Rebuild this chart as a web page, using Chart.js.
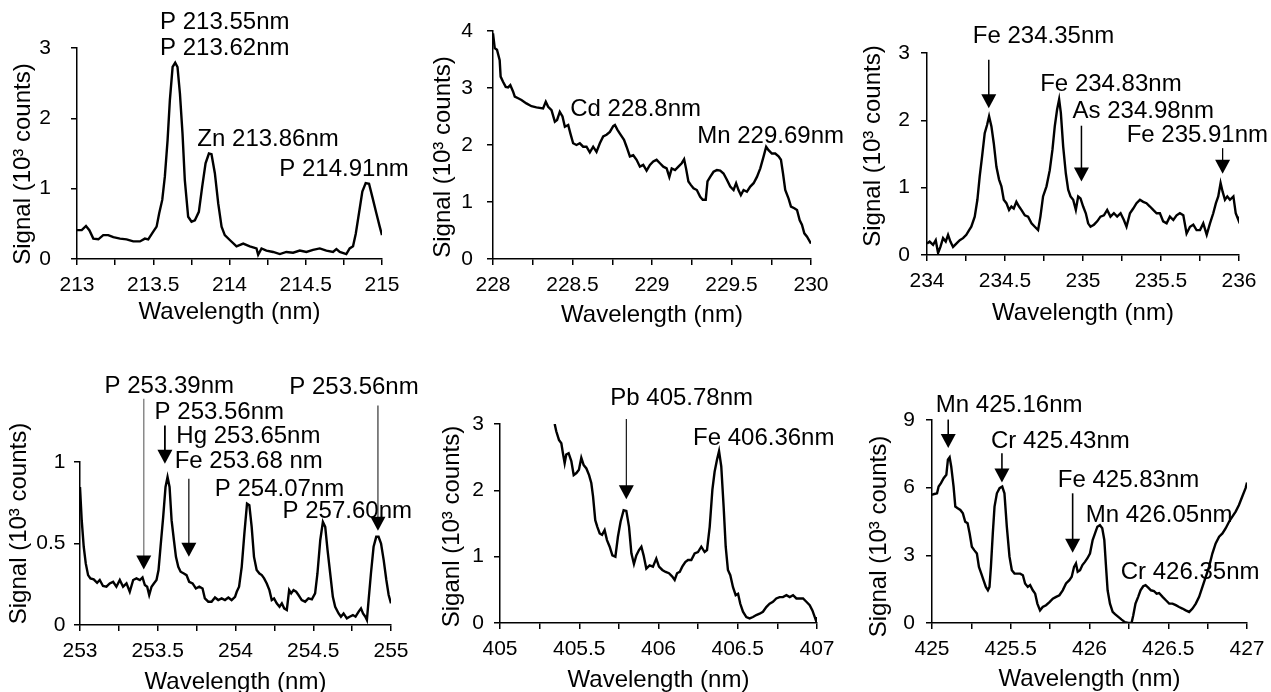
<!DOCTYPE html>
<html><head><meta charset="utf-8">
<script src="https://cdn.jsdelivr.net/npm/chart.js@4.4.1/dist/chart.umd.min.js"></script>
<style>
html,body{margin:0;padding:0;background:#fff;overflow:hidden}
#wrap{position:relative;width:1271px;height:692px;overflow:hidden;background:#fff}
canvas{position:absolute}
</style></head><body><div id="wrap"></div>
<script>
// ---------- DATA ----------
const p1X = [213.000,213.031,213.059,213.081,213.107,213.140,213.172,213.205,213.238,213.282,213.325,213.369,213.413,213.445,213.467,213.500,213.522,213.539,213.559,213.576,213.594,213.609,213.627,213.644,213.659,213.675,213.692,213.707,213.729,213.751,213.773,213.799,213.821,213.843,213.865,213.882,213.904,213.926,213.948,213.969,214.002,214.046,214.090,214.133,214.177,214.188,214.210,214.242,214.286,214.330,214.373,214.417,214.461,214.504,214.548,214.592,214.635,214.679,214.701,214.723,214.766,214.788,214.810,214.828,214.849,214.871,214.893,214.915,214.937,214.963,214.985,215.000];
const p1Y = [0.41,0.41,0.47,0.41,0.29,0.28,0.34,0.34,0.31,0.29,0.28,0.25,0.25,0.29,0.28,0.39,0.46,0.65,0.84,1.17,1.69,2.26,2.73,2.79,2.73,2.35,1.78,1.12,0.60,0.53,0.55,0.67,1.03,1.36,1.50,1.49,1.22,0.79,0.46,0.34,0.27,0.18,0.22,0.18,0.15,0.06,0.15,0.12,0.10,0.07,0.10,0.09,0.12,0.10,0.13,0.15,0.12,0.10,0.14,0.10,0.07,0.15,0.18,0.36,0.65,0.96,1.08,1.07,0.88,0.65,0.46,0.34];

const p2X = [228.000,228.011,228.025,228.042,228.048,228.063,228.080,228.095,228.109,228.126,228.137,228.158,228.179,228.210,228.242,228.273,228.315,228.332,228.347,228.368,228.389,228.403,228.420,228.437,228.452,228.473,228.487,228.504,228.525,228.546,228.567,228.588,228.609,228.630,228.651,228.672,228.693,228.714,228.735,228.756,228.767,228.782,228.798,228.824,228.840,228.861,228.882,228.903,228.924,228.945,228.966,228.987,229.008,229.029,229.050,229.071,229.092,229.109,229.124,229.145,229.166,229.187,229.202,229.214,229.229,229.244,229.261,229.282,229.303,229.319,229.338,229.349,229.366,229.387,229.408,229.429,229.450,229.471,229.492,229.513,229.529,229.544,229.559,229.576,229.597,229.618,229.639,229.660,229.681,229.702,229.718,229.733,229.754,229.775,229.796,229.811,229.824,229.838,229.859,229.874,229.895,229.912,229.929,229.943,229.958,229.975,230.000];
const p2Y = [3.96,3.70,3.67,3.49,3.20,3.11,3.02,3.01,3.05,2.94,2.85,2.82,2.79,2.73,2.68,2.66,2.64,2.76,2.67,2.61,2.41,2.44,2.58,2.50,2.32,2.35,2.20,2.03,2.00,2.03,1.97,1.97,1.87,1.97,1.88,2.03,2.15,2.18,2.23,2.33,2.35,2.27,2.20,2.09,1.97,1.80,1.82,1.74,1.62,1.65,1.55,1.65,1.71,1.74,1.68,1.62,1.59,1.44,1.59,1.56,1.62,1.68,1.75,1.59,1.36,1.30,1.24,1.21,1.09,1.04,1.04,1.36,1.44,1.53,1.56,1.55,1.50,1.39,1.27,1.21,1.33,1.21,1.12,1.21,1.18,1.27,1.33,1.44,1.59,1.80,1.97,1.91,1.85,1.85,1.80,1.74,1.50,1.21,1.06,0.92,0.89,0.86,0.68,0.60,0.45,0.39,0.27];

const p3X = [234.000,234.017,234.039,234.056,234.071,234.086,234.103,234.120,234.135,234.150,234.167,234.188,234.210,234.231,234.252,234.270,234.284,234.306,234.323,234.338,234.353,234.370,234.385,234.398,234.413,234.428,234.445,234.462,234.477,234.492,234.509,234.526,234.541,234.556,234.573,234.590,234.605,234.627,234.648,234.670,234.691,234.712,234.727,234.744,234.766,234.787,234.804,234.819,234.834,234.847,234.858,234.873,234.890,234.905,234.920,234.937,234.954,234.969,234.984,235.001,235.018,235.033,235.048,235.070,235.091,235.112,235.134,235.155,235.176,235.198,235.219,235.241,235.262,235.279,235.301,235.322,235.343,235.365,235.386,235.407,235.429,235.450,235.472,235.493,235.514,235.536,235.557,235.579,235.600,235.621,235.643,235.664,235.686,235.707,235.728,235.750,235.771,235.793,235.814,235.835,235.852,235.867,235.882,235.895,235.910,235.925,235.942,235.964,235.979,235.996,236.000];
const p3Y = [0.17,0.20,0.15,0.22,0.03,0.12,0.25,0.20,0.30,0.20,0.12,0.17,0.22,0.25,0.30,0.37,0.42,0.57,0.82,1.17,1.46,1.81,1.93,2.06,1.91,1.66,1.31,1.12,1.02,0.82,0.77,0.67,0.72,0.69,0.79,0.72,0.67,0.59,0.57,0.47,0.42,0.37,0.57,0.87,1.02,1.26,1.56,1.91,2.16,2.31,2.11,1.61,1.21,0.97,0.87,0.82,0.67,0.87,0.84,0.72,0.62,0.47,0.42,0.45,0.50,0.57,0.59,0.67,0.57,0.62,0.57,0.62,0.52,0.42,0.62,0.69,0.77,0.82,0.79,0.77,0.72,0.67,0.62,0.62,0.50,0.47,0.57,0.52,0.59,0.62,0.59,0.32,0.42,0.45,0.37,0.37,0.47,0.30,0.47,0.62,0.77,0.87,1.07,0.94,0.82,0.87,0.82,0.87,0.62,0.52,0.57];

const p4X = [253.000,253.011,253.024,253.037,253.052,253.067,253.088,253.110,253.127,253.148,253.170,253.191,253.213,253.234,253.256,253.277,253.299,253.320,253.342,253.363,253.385,253.402,253.417,253.432,253.445,253.460,253.475,253.492,253.505,253.518,253.535,253.550,253.563,253.576,253.589,253.604,253.617,253.632,253.647,253.668,253.685,253.702,253.724,253.745,253.767,253.788,253.803,253.825,253.846,253.868,253.889,253.911,253.932,253.954,253.975,253.997,254.008,254.023,254.040,254.057,254.074,254.089,254.104,254.119,254.136,254.154,254.169,254.184,254.201,254.218,254.233,254.248,254.265,254.283,254.298,254.313,254.330,254.345,254.358,254.373,254.390,254.405,254.426,254.448,254.469,254.491,254.512,254.527,254.545,254.562,254.577,254.592,254.609,254.626,254.641,254.663,254.678,254.695,254.716,254.734,254.755,254.772,254.792,254.807,254.820,254.835,254.845,254.856,254.871,254.888,254.905,254.920,254.936,254.953,254.970,254.985,255.000];
const p4Y = [0.847,0.643,0.480,0.378,0.306,0.286,0.280,0.259,0.276,0.239,0.235,0.255,0.265,0.235,0.276,0.235,0.255,0.204,0.276,0.286,0.276,0.292,0.245,0.235,0.184,0.235,0.255,0.276,0.337,0.480,0.663,0.847,0.908,0.847,0.643,0.520,0.418,0.357,0.327,0.316,0.306,0.265,0.255,0.224,0.235,0.224,0.163,0.143,0.143,0.169,0.153,0.163,0.153,0.169,0.153,0.173,0.204,0.235,0.357,0.561,0.745,0.735,0.602,0.418,0.337,0.316,0.306,0.286,0.255,0.214,0.153,0.163,0.133,0.112,0.133,0.102,0.092,0.214,0.194,0.214,0.204,0.184,0.153,0.143,0.163,0.157,0.194,0.316,0.520,0.633,0.602,0.459,0.316,0.173,0.112,0.071,0.051,0.071,0.041,0.051,0.061,0.051,0.082,0.102,0.071,0.051,0.031,0.153,0.316,0.480,0.541,0.541,0.500,0.398,0.276,0.184,0.133];

const p5X = [405.345,405.355,405.372,405.387,405.397,405.408,405.418,405.433,405.450,405.465,405.482,405.498,405.513,405.528,405.545,405.562,405.576,405.587,405.601,405.614,405.629,405.644,405.660,405.675,405.692,405.709,405.728,405.744,405.761,405.780,405.797,405.814,405.829,405.845,405.860,405.877,405.892,405.906,405.923,405.944,405.965,405.986,406.003,406.024,406.045,406.066,406.087,406.102,406.117,406.134,406.150,406.169,406.186,406.207,406.228,406.249,406.270,406.291,406.306,406.323,406.340,406.354,406.369,406.382,406.396,406.411,406.424,406.438,406.453,406.470,406.487,406.502,406.516,406.533,406.554,406.575,406.596,406.617,406.638,406.659,406.680,406.701,406.722,406.743,406.764,406.785,406.807,406.828,406.849,406.870,406.891,406.912,406.933,406.954,406.971,406.986,406.996,407.000];
const p5Y = [3.00,2.89,2.76,2.71,2.56,2.41,2.54,2.56,2.44,2.23,2.26,2.31,2.49,2.38,2.33,2.23,2.11,1.91,1.55,1.45,1.35,1.33,1.40,1.25,1.15,1.02,1.00,1.30,1.53,1.70,1.69,1.45,1.05,0.89,1.02,1.10,1.15,1.02,0.82,0.87,0.85,0.97,0.85,0.80,0.77,0.75,0.70,0.65,0.75,0.77,0.85,0.92,0.95,0.95,1.05,1.07,1.15,1.07,1.10,1.45,2.01,2.28,2.46,2.59,2.36,1.75,1.15,0.80,0.72,0.54,0.42,0.44,0.29,0.17,0.09,0.07,0.09,0.12,0.14,0.17,0.24,0.29,0.32,0.37,0.39,0.39,0.42,0.39,0.42,0.37,0.37,0.37,0.32,0.27,0.19,0.09,0.02,0.09];

const p6X = [425.000,425.015,425.032,425.042,425.057,425.074,425.091,425.101,425.112,425.122,425.137,425.148,425.163,425.180,425.196,425.211,425.226,425.239,425.253,425.268,425.285,425.298,425.313,425.327,425.342,425.355,425.365,425.374,425.386,425.397,425.412,425.429,425.446,425.460,425.475,425.492,425.507,425.524,425.539,425.560,425.577,425.591,425.608,425.623,425.640,425.655,425.669,425.686,425.703,425.724,425.746,425.767,425.788,425.809,425.830,425.851,425.872,425.887,425.902,425.914,425.925,425.940,425.955,425.971,425.986,426.003,426.020,426.035,426.050,426.066,426.081,426.094,426.105,426.115,426.130,426.147,426.162,426.183,426.204,426.225,426.246,426.267,426.278,426.292,426.309,426.324,426.341,426.356,426.373,426.390,426.409,426.426,426.442,426.464,426.485,426.506,426.527,426.548,426.569,426.590,426.611,426.633,426.654,426.675,426.696,426.717,426.738,426.759,426.780,426.801,426.823,426.844,426.865,426.886,426.907,426.928,426.949,426.970,426.991,427.000];
const p6Y = [5.68,5.72,5.75,6.05,6.20,6.42,6.57,7.24,7.35,6.94,6.05,5.16,5.09,5.01,4.86,4.49,4.42,3.97,3.38,3.23,3.08,2.49,2.19,1.90,1.60,1.45,1.60,2.49,3.97,5.16,5.75,5.98,6.05,5.75,4.27,2.94,2.34,2.19,2.19,2.19,2.12,1.75,1.60,1.68,1.45,1.30,0.86,0.56,0.71,0.79,0.93,1.08,1.16,1.23,1.45,1.75,1.90,2.05,2.49,2.64,2.27,2.34,2.57,2.71,2.86,3.08,3.68,3.97,4.27,4.34,4.20,3.68,2.49,1.45,0.86,0.49,0.39,0.27,0.15,0.04,0.00,0.00,0.34,0.86,1.16,1.45,1.63,1.68,1.57,1.45,1.42,1.30,1.33,1.16,1.01,0.86,0.86,0.79,0.71,0.64,0.56,0.49,0.64,0.86,1.16,1.60,2.05,2.49,3.08,3.53,3.83,3.97,4.20,4.49,4.72,4.94,5.23,5.61,5.98,6.23];

// tick labels
const p1XTicks = [213, 213.5, 214, 214.5, 215];
const p2XTicks = [228, 228.5, 229, 229.5, 230];
const p3XTicks = [234, 234.5, 235, 235.5, 236];
const p4XTicks = [253, 253.5, 254, 254.5, 255];
const p5XTicks = [405, 405.5, 406, 406.5, 407];
const p6XTicks = [425, 425.5, 426, 426.5, 427];
const p1YTicks = [0, 1, 2, 3];
const p2YTicks = [0, 1, 2, 3, 4];
const p3YTicks = [0, 1, 2, 3];
const p4YTicks = [0, 0.5, 1];
const p5YTicks = [0, 1, 2, 3];
const p6YTicks = [0, 3, 6, 9];

// texts
const xAxisTitle = "Wavelength (nm)";
const yAxisTitle = "Signal (10\u00B3 counts)";
const yAxisTitleP5 = "Siganl (10\u00B3 counts)";
const p1Notes = ["P 213.55nm", "P 213.62nm", "Zn 213.86nm", "P 214.91nm"];
const p2Notes = ["Cd 228.8nm", "Mn 229.69nm"];
const p3Notes = ["Fe 234.35nm", "Fe 234.83nm", "As 234.98nm", "Fe 235.91nm"];
const p4Notes = ["P 253.39nm", "P 253.56nm", "Hg 253.65nm", "Fe 253.68 nm", "P 254.07nm", "P 257.60nm", "P 253.56nm"];
const p5Notes = ["Pb 405.78nm", "Fe 406.36nm"];
const p6Notes = ["Mn 425.16nm", "Cr 425.43nm", "Fe 425.83nm", "Mn 426.05nm", "Cr 426.35nm"];

// ---------- LAYOUT / STYLE ----------
const FONT = "'Liberation Sans', Arial, sans-serif";
const TICK_SIZE = 21, TEXT_SIZE = 24;

const panels = [
  { xs:p1X, ys:p1Y, xMin:213, xMax:215, xTicks:p1XTicks, yMax:3, yStep:1, yTicks:p1YTicks, yTitle:yAxisTitle,
    plot:{l:77,t:48,r:382,b:259}, yPad:20, yTitleDx:54, yTitleDy:10.5, xTitleOff:53,
    notes:[{t:p1Notes[0],x:213.969,y:3.365},{t:p1Notes[1],x:213.969,y:2.996},{t:p1Notes[2],x:214.253,y:1.704},{t:p1Notes[3],x:214.751,y:1.278}],
    arrows:[] },
  { xs:p2X, ys:p2Y, xMin:228, xMax:230, xTicks:p2XTicks, yMax:4, yStep:1, yTicks:p2YTicks, yTitle:yAxisTitle,
    plot:{l:493,t:31,r:811,b:259}, yPad:14, yTitleDx:50, yTitleDy:12, xTitleOff:56,
    notes:[{t:p2Notes[0],x:228.897,y:2.63},{t:p2Notes[1],x:229.746,y:2.16}],
    arrows:[] },
  { xs:p3X, ys:p3Y, xMin:234, xMax:236, xTicks:p3XTicks, yMax:3, yStep:1, yTicks:p3YTicks, yTitle:yAxisTitle,
    plot:{l:927,t:53,r:1239,b:255}, yPad:11, yTitleDx:54, yTitleDy:-8, xTitleOff:58,
    notes:[{t:p3Notes[0],x:234.747,y:3.25},{t:p3Notes[1],x:235.179,y:2.53},{t:p3Notes[2],x:235.386,y:2.14},{t:p3Notes[3],x:235.733,y:1.775}],
    arrows:[{x:234.396,y1:2.90,y2:2.18,w:1.5,c:'#000'},{x:234.990,y1:1.92,y2:1.09,w:1.5,c:'#000'},{x:235.895,y1:1.587,y2:1.205,w:1.3,c:'#000'}] },
  { xs:p4X, ys:p4Y, xMin:253, xMax:255, xTicks:p4XTicks, yMax:1, yStep:0.5, yTicks:p4YTicks, yTitle:yAxisTitle,
    plot:{l:80,t:462,r:391,b:625}, yPad:8.5, yTitleDx:61, yTitleDy:-20, xTitleOff:57,
    notes:[{t:p4Notes[0],x:253.574,y:1.465},{t:p4Notes[1],x:253.896,y:1.306},{t:p4Notes[2],x:254.083,y:1.159},{t:p4Notes[3],x:254.085,y:1.006},{t:p4Notes[4],x:254.283,y:0.833},{t:p4Notes[5],x:254.719,y:0.700},{t:p4Notes[6],x:254.762,y:1.455}],
    arrows:[{x:253.410,y1:1.388,y2:0.341,w:1.5,c:'#8a8a8a'},{x:253.546,y1:1.224,y2:0.990,w:1.8,c:'#000'},{x:253.700,y1:0.898,y2:0.418,w:1.2,c:'#000'},{x:254.916,y1:1.347,y2:0.578,w:1.2,c:'#333'}] },
  { xs:p5X, ys:p5Y, xMin:405, xMax:407, xTicks:p5XTicks, yMax:3, yStep:1, yTicks:p5YTicks, yTitle:yAxisTitleP5,
    plot:{l:500,t:424,r:817,b:623}, yPad:10, yTitleDx:48, yTitleDy:3, xTitleOff:57,
    notes:[{t:p5Notes[0],x:406.146,y:3.393},{t:p5Notes[1],x:406.664,y:2.778}],
    arrows:[{x:405.797,y1:3.076,y2:1.866,w:1.1,c:'#000'}] },
  { xs:p6X, ys:p6Y, xMin:425, xMax:427, xTicks:p6XTicks, yMax:9, yStep:3, yTicks:p6YTicks, yTitle:yAxisTitle,
    plot:{l:932,t:420,r:1247,b:623}, yPad:11, yTitleDx:53, yTitleDy:15, xTitleOff:56,
    notes:[{t:p6Notes[0],x:425.490,y:9.64},{t:p6Notes[1],x:425.815,y:8.05},{t:p6Notes[2],x:426.248,y:6.32},{t:p6Notes[3],x:426.442,y:4.76},{t:p6Notes[4],x:426.639,y:2.24}],
    arrows:[{x:425.103,y1:9.02,y2:7.755,w:1.6,c:'#000'},{x:425.444,y1:7.53,y2:6.23,w:1.6,c:'#000'},{x:425.893,y1:5.75,y2:3.11,w:1.6,c:'#000'}] }
];

const near = (arr, v) => arr.some(t => Math.abs(t - v) < 1e-6);

function notesPlugin(p) {
  return {
    id: 'notes',
    afterDraw(chart) {
      const ctx = chart.ctx, xs = chart.scales.x, ys = chart.scales.y, a = chart.chartArea;
      ctx.save();
      ctx.fillStyle = '#000';
      ctx.font = TEXT_SIZE + 'px ' + FONT;
      ctx.textAlign = 'center'; ctx.textBaseline = 'middle';
      // y axis title
      ctx.save();
      ctx.translate(a.left - p.yTitleDx, (a.top + a.bottom) / 2 + p.yTitleDy);
      ctx.rotate(-Math.PI / 2);
      ctx.fillText(p.yTitle, 0, 0);
      ctx.restore();
      // arrows
      p.arrows.forEach(ar => {
        const X = xs.getPixelForValue(ar.x), Y1 = ys.getPixelForValue(ar.y1), Y2 = ys.getPixelForValue(ar.y2);
        const hh = 14, hw = 7.5;
        ctx.strokeStyle = ar.c;
        ctx.lineWidth = ar.w;
        ctx.beginPath(); ctx.moveTo(X, Y1); ctx.lineTo(X, Y2 - hh + 1); ctx.stroke();
        ctx.fillStyle = '#000';
        ctx.beginPath(); ctx.moveTo(X - hw, Y2 - hh); ctx.lineTo(X + hw, Y2 - hh); ctx.lineTo(X, Y2); ctx.closePath(); ctx.fill();
      });
      // labels
      ctx.fillStyle = '#000';
      p.notes.forEach(n => {
        ctx.fillText(n.t, xs.getPixelForValue(n.x), ys.getPixelForValue(n.y));
      });
      ctx.restore();
    }
  };
}

const wrap = document.getElementById('wrap');
panels.forEach(p => {
  const WY = 80, HX = 80;
  const plotW = p.plot.r - p.plot.l, plotH = p.plot.b - p.plot.t;
  const PT = Math.min(p.plot.t, 100);
  const cw = WY + plotW + 40, ch = PT + plotH + HX;
  const cv = document.createElement('canvas');
  cv.width = cw; cv.height = ch;
  cv.style.left = (p.plot.l - WY) + 'px';
  cv.style.top = (p.plot.t - PT) + 'px';
  cv.style.width = cw + 'px'; cv.style.height = ch + 'px';
  wrap.appendChild(cv);
  const axisCommon = {
    grid: { display: true, drawOnChartArea: false, drawTicks: true, tickLength: 6, color: '#000', lineWidth: 1.5 },
    border: { display: true, color: '#000', width: 1.5 }
  };
  new Chart(cv, {
    type: 'line',
    data: { datasets: [{ data: p.xs.slice(0, Math.min(p.xs.length, p.ys.length)).map((x, i) => ({ x: x, y: p.ys[i] })),
      borderColor: '#000', borderWidth: 2.4, pointRadius: 0, tension: 0, fill: false }] },
    options: {
      responsive: false, animation: false, devicePixelRatio: 1,
      layout: { padding: { left: 0, top: PT, right: 40, bottom: 0 } },
      plugins: { legend: { display: false }, tooltip: { enabled: false }, title: { display: false } },
      scales: {
        x: Object.assign({
          type: 'linear', min: p.xMin, max: p.xMax,
          afterFit: s => { s.height = HX; },
          ticks: { stepSize: 0.25, autoSkip: false, maxRotation: 0, minRotation: 0, padding: 8, color: '#000',
            font: { family: FONT, size: TICK_SIZE },
            callback: v => near(p.xTicks, v) ? String(+v.toFixed(2)) : '' },
          title: { display: true, text: xAxisTitle, color: '#000', font: { family: FONT, size: TEXT_SIZE },
            padding: { top: 0, bottom: HX - p.xTitleOff - TEXT_SIZE * 0.6 } }
        }, axisCommon),
        y: Object.assign({
          type: 'linear', min: 0, max: p.yMax,
          afterFit: s => { s.width = WY; },
          ticks: { stepSize: p.yStep, padding: p.yPad, color: '#000', font: { family: FONT, size: TICK_SIZE },
            callback: v => near(p.yTicks, v) ? String(+v.toFixed(2)) : '' },
          title: { display: false }
        }, axisCommon)
      }
    },
    plugins: [notesPlugin(p)]
  });
});
</script>
</body></html>
